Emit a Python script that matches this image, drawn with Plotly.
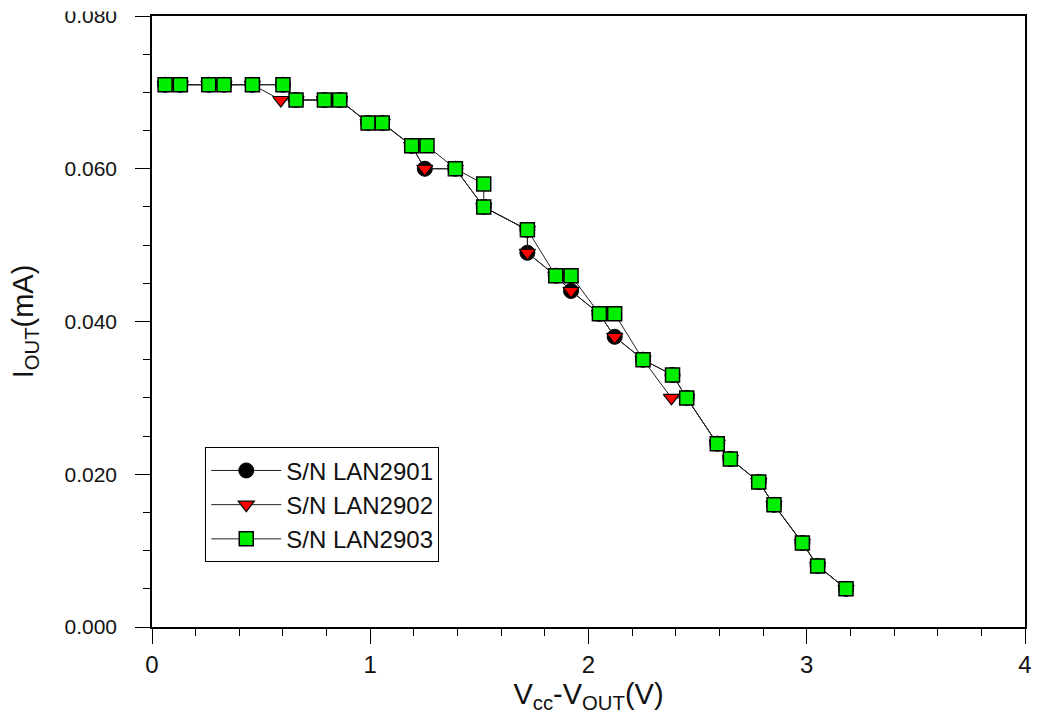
import plotly.graph_objects as go

# ---- data ----
x_2901 = [0.06, 0.13, 0.26, 0.33, 0.46, 0.60, 0.66, 0.79, 0.86, 0.99, 1.055, 1.19, 1.25, 1.39, 1.52,
          1.72, 1.72, 1.85, 1.92, 2.05, 2.12, 2.25, 2.385, 2.45, 2.59, 2.65, 2.78, 2.85, 2.98, 3.05, 3.18]
y_2901 = [0.071, 0.071, 0.071, 0.071, 0.071, 0.071, 0.069, 0.069, 0.069, 0.066, 0.066, 0.063, 0.060, 0.060, 0.055,
          0.052, 0.049, 0.046, 0.044, 0.041, 0.038, 0.035, 0.033, 0.030, 0.024, 0.022, 0.019, 0.016, 0.011, 0.008, 0.005]

x_2902 = [0.06, 0.13, 0.26, 0.33, 0.46, 0.59, 0.66, 0.79, 0.86, 0.99, 1.055, 1.19, 1.25, 1.39, 1.52,
          1.72, 1.72, 1.85, 1.92, 2.05, 2.12, 2.25, 2.38, 2.45, 2.59, 2.65, 2.78, 2.85, 2.98, 3.05, 3.18]
y_2902 = [0.071, 0.071, 0.071, 0.071, 0.071, 0.069, 0.069, 0.069, 0.069, 0.066, 0.066, 0.063, 0.060, 0.060, 0.055,
          0.052, 0.049, 0.046, 0.044, 0.041, 0.038, 0.035, 0.030, 0.030, 0.024, 0.022, 0.019, 0.016, 0.011, 0.008, 0.005]

x_2903 = [0.06, 0.13, 0.26, 0.33, 0.46, 0.60, 0.66, 0.79, 0.86, 0.99, 1.055, 1.19, 1.26, 1.39, 1.52, 1.52,
          1.72, 1.85, 1.92, 2.05, 2.12, 2.25, 2.385, 2.45, 2.59, 2.65, 2.78, 2.85, 2.98, 3.05, 3.18]
y_2903 = [0.071, 0.071, 0.071, 0.071, 0.071, 0.071, 0.069, 0.069, 0.069, 0.066, 0.066, 0.063, 0.063, 0.060, 0.058, 0.055,
          0.052, 0.046, 0.046, 0.041, 0.041, 0.035, 0.033, 0.030, 0.024, 0.022, 0.019, 0.016, 0.011, 0.008, 0.005]

names = ["S/N LAN2901", "S/N LAN2902", "S/N LAN2903"]

FONT = "Liberation Sans, Arial, sans-serif"

fig = go.Figure()
fig.add_trace(go.Scatter(
    x=x_2901, y=y_2901, name=names[0], mode="lines+markers",
    line=dict(color="#222222", width=1),
    marker=dict(symbol="circle", size=15, color="black", line=dict(color="black", width=1))))
fig.add_trace(go.Scatter(
    x=x_2902, y=y_2902, name=names[1], mode="lines+markers",
    line=dict(color="#222222", width=1),
    marker=dict(symbol="triangle-down", size=14, color="#ff0000", line=dict(color="black", width=1.2))))
fig.add_trace(go.Scatter(
    x=x_2903, y=y_2903, name=names[2], mode="lines+markers",
    line=dict(color="#222222", width=1),
    marker=dict(symbol="square", size=14, color="#00ee00", line=dict(color="black", width=1.5))))

fig.update_layout(
    width=1037, height=719,
    margin=dict(l=152, r=12, t=16, b=92, autoexpand=False),
    paper_bgcolor="white", plot_bgcolor="white",
    font=dict(family=FONT, color="black"),
    showlegend=True,
    legend=dict(
        x=0.061, y=0.294, xanchor="left", yanchor="top",
        bgcolor="white", bordercolor="black", borderwidth=1,
        font=dict(family=FONT, size=24, color="#111111"),
        itemwidth=70,
        tracegroupgap=4,
    ),
    xaxis=dict(
        range=[0, 4], dtick=1, tick0=0, automargin=False,
        showgrid=False, zeroline=False,
        showline=True, linecolor="black", linewidth=1.5, mirror=True,
        ticks="outside", ticklen=15, tickwidth=1.2, tickcolor="black",
        minor=dict(dtick=0.2, ticks="outside", ticklen=7, tickwidth=1.2, tickcolor="black"),
        tickfont=dict(family=FONT, size=24, color="#111111"),
        ticklabelstandoff=0,
        title=dict(text="V<sub>cc</sub>-V<sub>OUT</sub>(V)", font=dict(family=FONT, size=29, color="#111111"),
                   standoff=4),
    ),
    yaxis=dict(
        range=[0, 0.08], dtick=0.02, tick0=0, tickformat=".3f", automargin=False,
        showgrid=False, zeroline=False,
        showline=True, linecolor="black", linewidth=1.5, mirror=True,
        ticks="outside", ticklen=15, tickwidth=1.2, tickcolor="black",
        minor=dict(dtick=0.005, ticks="outside", ticklen=7, tickwidth=1.2, tickcolor="black"),
        tickfont=dict(family=FONT, size=21, color="#111111"),
        ticklabelstandoff=14,
        title=dict(text="I<sub>OUT</sub>(mA)", font=dict(family=FONT, size=29, color="#111111"),
                   standoff=22),
    ),
    shapes=[dict(type="rect", xref="paper", yref="paper", layer="above",
                 x0=-0.2, x1=1.02, y0=1.0075, y1=1.05,
                 fillcolor="white", line=dict(width=0))],
)

fig.write_html("out.html")
